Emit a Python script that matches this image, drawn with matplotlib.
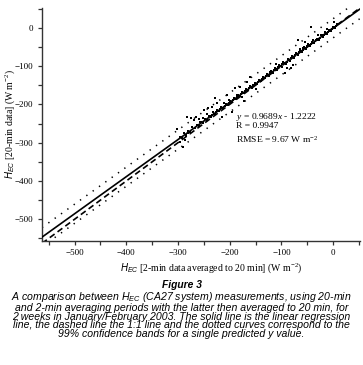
import numpy as np
import matplotlib
matplotlib.use('Agg')
import matplotlib.pyplot as plt
from matplotlib.ticker import MultipleLocator

matplotlib.rcParams['font.family'] = 'Liberation Serif'
matplotlib.rcParams['mathtext.fontset'] = 'custom'
matplotlib.rcParams['mathtext.rm'] = 'Liberation Serif'
matplotlib.rcParams['mathtext.it'] = 'Liberation Serif:italic'
matplotlib.rcParams['mathtext.sf'] = 'Liberation Sans:italic'

# regression from the annotation
slope = 0.9689
intercept = -1.2222
band = 25.0  # half width of 99% prediction band (W m-2)

# core points (x = 2-min averaged, y = 20-min)
x_a = [-296, -292, -288, -284, -280, -276, -272, -268, -264, -260, -256, -252, -248, -244,
       -240, -236, -232, -228, -224, -220, -216, -212, -208, -204, -200, -196, -192, -188,
       -184, -180, -176, -172, -168, -164, -160, -156, -152, -148, -144, -140, -136, -132,
       -128, -124, -120, -116, -112, -108, -104, -100, -96, -92, -88, -84, -80, -76, -72,
       -68, -64, -60, -56, -52, -48, -44, -40, -36, -32, -28, -24, -20, -16, -12, -8, -4,
       0, 4, 8]
y_a = [-285, -287, -276, -280, -270, -272, -259, -262, -253, -256, -246, -249, -238, -240,
       -229, -233, -221, -225, -214, -218, -207, -210, -198, -202, -190, -194, -183, -187,
       -175, -179, -167, -171, -160, -163, -152, -156, -144, -148, -136, -140, -129, -132,
       -121, -125, -113, -117, -105, -109, -98, -101, -90, -94, -82, -86, -74, -78, -67,
       -70, -59, -63, -51, -55, -43, -47, -36, -39, -28, -32, -20, -24, -12, -16, -5, -8,
       3, 0, 9]

x_b = [-238, -234, -230, -226, -222, -218, -214, -210, -206, -202, -198, -194, -190, -186,
       -182, -178, -174, -170, -166, -162, -158, -154, -150, -146, -142, -138, -134, -130,
       -126, -122, -118, -114, -110, -106, -102, -98, -94, -90, -86, -82, -78, -74, -70,
       -66, -62, -58, -54, -50, -46, -42, -38, -34, -30, -26, -22, -18, -14, -10, -6, -2,
       2, 6]
y_b = [-231.5, -227, -225, -220, -217, -212, -209, -204, -201, -197, -193.5, -188, -186, -181,
       -178, -173, -170.5, -165, -162.5, -157, -154.5, -150, -147, -142, -139.5, -134, -131.5, -126,
       -123.5, -119, -116, -111, -108, -103, -100.5, -95, -92.5, -88, -85, -80, -77, -72, -69.5,
       -64, -61.5, -57, -53.5, -48, -46, -41, -38.5, -33, -30.5, -26, -22, -18, -15, -10, -7.5, -3,
       1, 4]

# scattered points away from the line
x_c = [-283, -275, -270, -266, -260, -257, -249, -244, -241, -235, -229, -225, -222, -215,
       -206, -202, -196, -190, -180, -167, -160, -296, -290, -302, -280, -293, -287, -285,
       -67, -54, -43, -82, -90, -93, -77, -122, -135, 1, -64, -173, -150, -110, -30, -12,
       -252, -233, -211, -186, -177, -143, -131, -105, -98, -58, -38, -20]
y_c = [-232, -235, -241, -232, -237, -245, -215, -224, -210, -206, -183, -197, -217, -232,
       -176, -189, -219, -158, -154, -141, -128, -298, -311, -263, -276, -285, -292, -283,
       -32, -37, 3, -106, -106, -119, -97, -115, -128, 15, -54, -190, -160, -95, -20, -3,
       -236, -219, -196, -176, -181, -135, -132, -97, -103, -52, -31, -19]

x_all = np.array(x_a + x_b + x_c, dtype=float)
y_all = np.array(y_a + y_b + y_c, dtype=float)

xlim = (-563, 52)
ylim = (-556, 51)

fig = plt.figure(figsize=(3.63, 3.65), dpi=100)
ax = fig.add_axes([42 / 363, 1 - 240.7 / 365, (360 - 42) / 363, (240.7 - 8.3) / 365])

xx = np.array(xlim, dtype=float)
ax.plot(xx, slope * xx + intercept, color='black', lw=1.2, zorder=3)
ax.plot(xx, xx, color='black', lw=1.2, dashes=(3.6, 2.2), zorder=2)
ax.plot(xx, slope * xx + intercept + band, color='black', lw=1.1, dashes=(0.9, 4.2), zorder=2)
ax.plot(xx, slope * xx + intercept - band, color='black', lw=1.1, dashes=(0.9, 4.2), zorder=2)
ax.scatter(x_all, y_all, s=3.2, marker='s', color='black', linewidths=0, zorder=4)

ax.set_xlim(xlim)
ax.set_ylim(ylim)
ax.xaxis.set_major_locator(MultipleLocator(100))
ax.xaxis.set_minor_locator(MultipleLocator(50))
ax.yaxis.set_major_locator(MultipleLocator(100))
ax.yaxis.set_minor_locator(MultipleLocator(50))
ax.spines['top'].set_visible(False)
ax.spines['right'].set_visible(False)
for s in ['left', 'bottom']:
    ax.spines[s].set_linewidth(1.0)
    ax.spines[s].set_color('#333333')
ax.tick_params(which='both', direction='out', length=3, width=0.9, color='#333333',
               labelsize=6.5, pad=3.2)

ax.set_xlabel(r'$\mathsf{H}_{\mathsf{EC}}$ [2-min data averaged to 20 min] (W m$^{-2}$)',
              fontsize=7, va='center')
ax.xaxis.set_label_coords((211 - 42) / (360 - 42), -(268 - 240.7) / 232.4)
ax.set_ylabel(r'$\mathsf{H}_{\mathsf{EC}}$ [20-min data] (W m$^{-2}$)', fontsize=7)
ax.yaxis.set_label_coords(-0.08, 0.5)

ax.text(-188, -233, r'$y$ = 0.9689$x$ - 1.2222', fontsize=6.8, va='center', ha='left')
ax.text(-188, -257, 'R = 0.9947', fontsize=6.8, va='center', ha='left')
ax.text(-188, -291, r'RMSE = 9.67 W m$^{-2}$', fontsize=6.8, va='center', ha='left')

cap_font = 'Liberation Sans'
fig.text(0.5, 1 - 284.5 / 365, 'Figure 3', fontsize=7.4, family=cap_font, style='italic',
         weight='bold', ha='center', va='center')
caption = [
    r'A comparison between $\mathsf{H}_{\mathsf{EC}}$ (CA27 system) measurements, using 20-min',
    'and 2-min averaging periods with the latter then averaged to 20 min, for',
    '2 weeks in January/February 2003. The solid line is the linear regression',
    'line, the dashed line the 1:1 line and the dotted curves correspond to the',
    '99% confidence bands for a single predicted y value.',
]
fig.text(0.5, 1 - 290.5 / 365, '\n'.join(caption), fontsize=7.6, family=cap_font,
         style='italic', ha='center', va='top', multialignment='center', linespacing=0.82)

plt.savefig('out.png', dpi=100)
